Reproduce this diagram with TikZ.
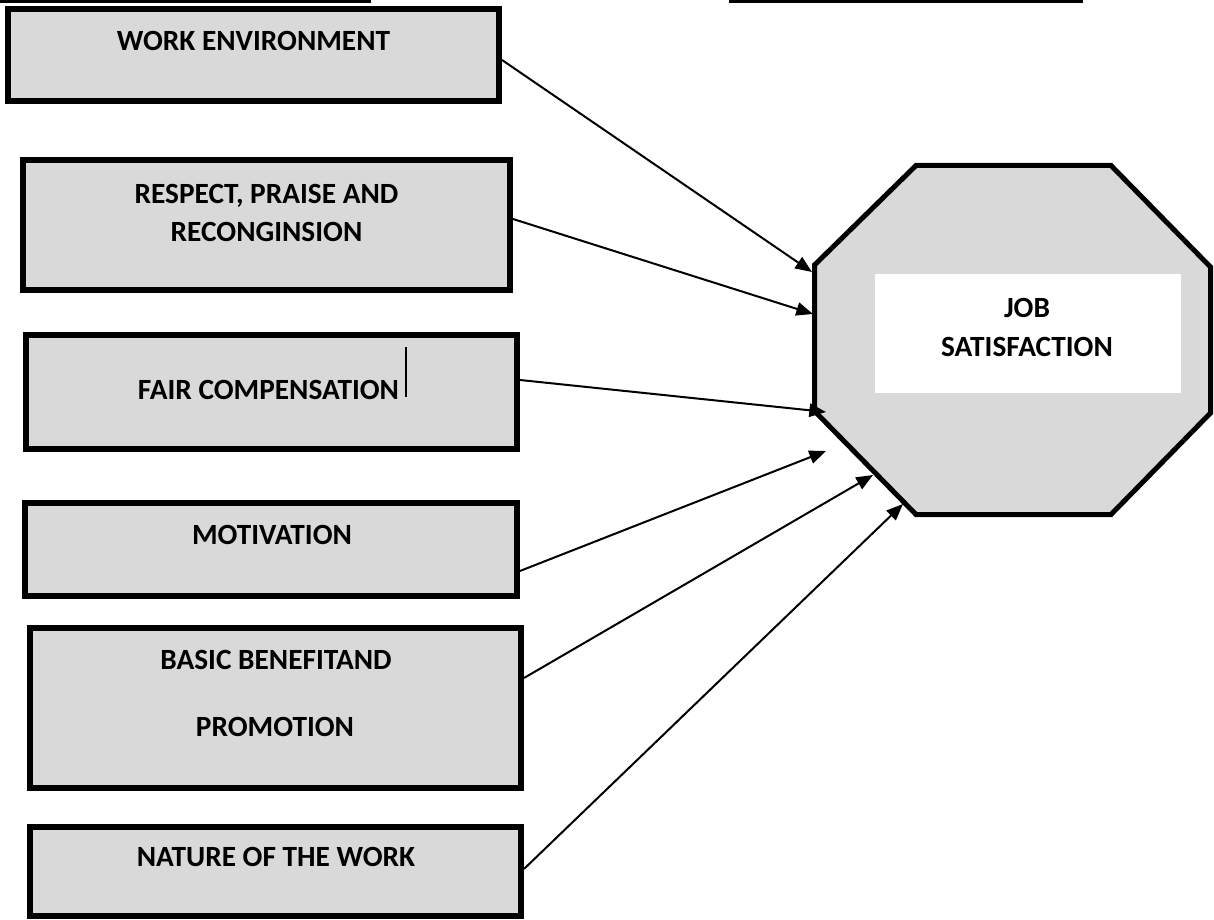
\documentclass[tikz,border=0pt]{standalone}
\usepackage{fontspec}
\setmainfont{Carlito}
\usetikzlibrary{arrows.meta}
\definecolor{boxgray}{HTML}{D9D9D9}
\begin{document}
\begin{tikzpicture}[x=0.75pt,y=-0.75pt,
  factor/.style={draw=black, line width=4.5pt, fill=boxgray, inner sep=0pt},
  txt/.style={font=\fontsize{22}{26}\selectfont\bfseries, anchor=base, inner sep=0pt},
  link/.style={line width=1.5pt, -{Triangle[length=12.5pt,width=10pt]}},
]
\useasboundingbox (0,0) rectangle (1214,920);
\fill[white] (0,0) rectangle (1214,920);

% heading underlines along the top edge
\fill[black] (0,0) rectangle (371,3);
\fill[black] (729,0) rectangle (1083,3);

% factor boxes
\node[factor, minimum width=368.25pt, minimum height=69pt]   (b1) at (253.5,55) {};
\node[factor, minimum width=365.25pt, minimum height=97.5pt] (b2) at (266.5,225) {};
\node[factor, minimum width=368.25pt, minimum height=85.5pt] (b3) at (271.5,392) {};
\node[factor, minimum width=369pt,    minimum height=69.75pt] (b4) at (271,549.5) {};
\node[factor, minimum width=368.25pt, minimum height=120pt]  (b5) at (275.5,708) {};
\node[factor, minimum width=368.25pt, minimum height=66.75pt] (b6) at (275.5,871.5) {};

\node[txt] (t1)  at (253.5,51)  {WORK ENVIRONMENT};
\node[txt] (t2a) at (266.5,204) {RESPECT, PRAISE AND};
\node[txt] (t2b) at (266.5,242) {RECONGINSION};
\node[txt] (t3)  at (268.5,399) {FAIR COMPENSATION};
\node[txt] (t4)  at (272,544)   {MOTIVATION};
\node[txt] (t5a) at (276,669)   {BASIC BENEFITAND};
\node[txt] (t5b) at (275,736)   {PROMOTION};
\node[txt] (t6)  at (276,866)   {NATURE OF THE WORK};

% text cursor mark after the compensation label
\draw[line width=1.1pt] (406,347) -- (406,397);

% octagon for the outcome
\draw[line width=3.75pt, fill=boxgray, line join=miter]
  (916,165.5) -- (1111,165.5) -- (1210.5,267) -- (1210.5,413) -- (1111,514.5)
  -- (916,514.5) -- (814.5,411) -- (814.5,265) -- cycle;
\node[fill=white, minimum width=229.5pt, minimum height=89.25pt, inner sep=0pt] (core) at (1028,333.5) {};
\node[txt] (ja) at (1027,317) {JOB};
\node[txt] (jb) at (1027,356) {SATISFACTION};

% arrow tips
\coordinate (p1) at (812,272);
\coordinate (p2) at (813,314);
\coordinate (p3) at (826,412);
\coordinate (p4) at (826,451);
\coordinate (p5) at (873,475);
\coordinate (p6) at (903,504);

\draw[link] ([yshift=-3.75pt]b1.east) -- (p1);
\draw[link] ([yshift=4.5pt]b2.east) -- (p2);
\draw[link] ([yshift=9pt]b3.east) -- (p3);
\draw[link] ([yshift=-16.1pt]b4.east) -- (p4);
\draw[link] ([yshift=22.5pt]b5.east) -- (p5);
\draw[link] ([yshift=1.9pt]b6.east) -- (p6);
\end{tikzpicture}
\end{document}
